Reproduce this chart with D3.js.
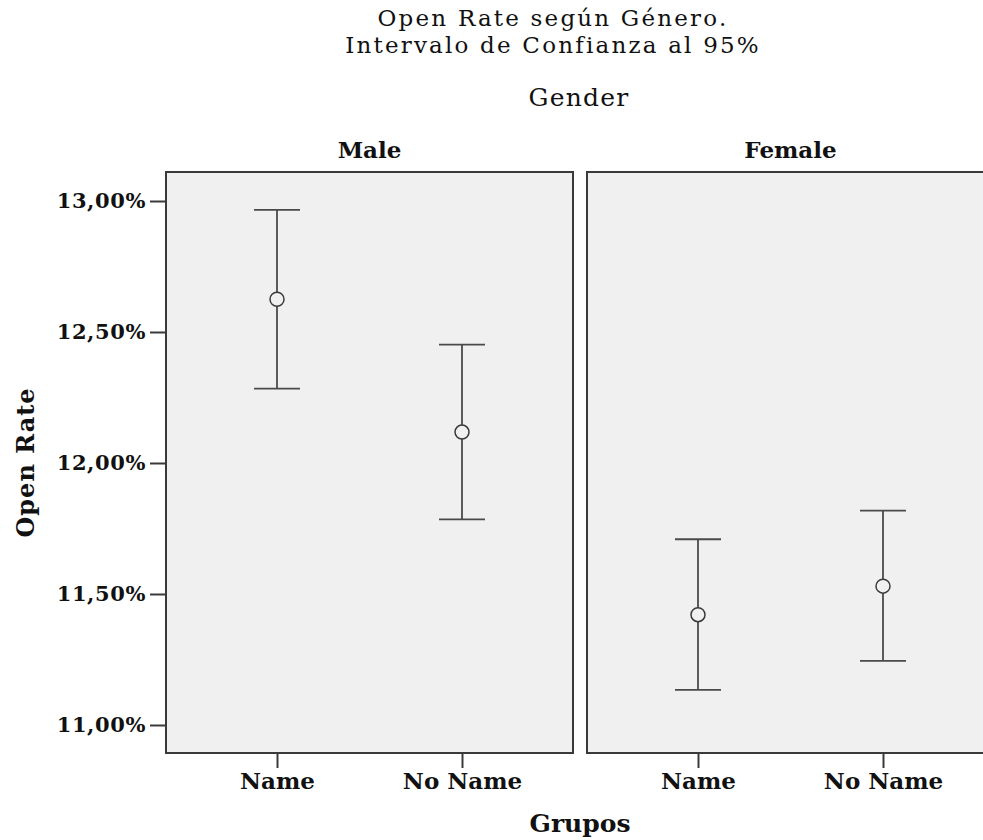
<!DOCTYPE html>
<html>
<head>
<meta charset="utf-8">
<script src="https://cdn.jsdelivr.net/npm/d3@7"></script>
<style>
	html, body { margin: 0; padding: 0; background: #fff; }
	svg text { font-family: "DejaVu Serif", serif; fill: #111; }
</style>
</head>
<body>
<svg id="chart" width="983" height="840"></svg>
<script>
'use strict';

// facets and groups
const genders = ["Male", "Female"];
const groups = ["Name", "No Name"];

// open rate (%) mean and 95% CI, one row per gender
const means = [[12.625, 12.118], [11.421, 11.530]];
const lower = [[12.284, 11.785], [11.134, 11.245]];
const upper = [[12.966, 12.452], [11.709, 11.818]];

const yTicks = [11.0, 11.5, 12.0, 12.5, 13.0];

const titleLines = ["Open Rate según Género.", "Intervalo de Confianza al 95%"];

let svg = d3.select("#chart");

let panelTop = 172, panelBottom = 753;
let panelW = 407;
let panelLeft = [166, 587];

let y = d3.scaleLinear()
	.domain([10.8931, 13.1107])
	.range([panelBottom, panelTop]);

function fmtPct(d){
	return d.toFixed(2).replace(".", ",") + "%";
}

// title, one text per line
svg.selectAll(".title")
	.data(titleLines)
	.enter()
	.append("text")
	.attr("class", "title")
	.attr("x", 553)
	.attr("y", function(d, i){ return 26 + i * 27; })
	.attr("text-anchor", "middle")
	.style("font-size", "23px")
	.style("letter-spacing", "2.2px")
	.text(function(d){ return d; });

svg.append("text")
	.attr("x", 579)
	.attr("y", 106)
	.attr("text-anchor", "middle")
	.style("font-size", "25px")
	.style("letter-spacing", "1.2px")
	.text("Gender");

// panels
genders.forEach(function(g, gi){
	let x0 = panelLeft[gi];
	let x = d3.scalePoint()
		.domain(groups)
		.range([x0, x0 + panelW])
		.padding(0.6);

	let panel = svg.append("g").attr("class", "panel");

	panel.append("rect")
		.attr("x", x0)
		.attr("y", panelTop)
		.attr("width", panelW)
		.attr("height", panelBottom - panelTop)
		.attr("fill", "#f0f0f0")
		.attr("stroke", "#3a3a3a")
		.attr("stroke-width", 2);

	panel.append("text")
		.attr("x", x0 + panelW / 2)
		.attr("y", 158)
		.attr("text-anchor", "middle")
		.style("font-size", "23px")
		.style("font-weight", "bold")
		.text(g);

	let xAxis = panel.append("g")
		.attr("transform", "translate(0," + panelBottom + ")")
		.call(d3.axisBottom(x).tickSize(15).tickPadding(5));
	xAxis.select(".domain").remove();
	xAxis.selectAll("line").attr("stroke", "#3a3a3a").attr("stroke-width", 2);
	xAxis.selectAll("text")
		.style("font-size", "23px")
		.style("font-weight", "bold")
		.style("font-family", "DejaVu Serif")
		.attr("fill", "#111");

	// error bars
	let bars = panel.selectAll(".bar")
		.data(groups)
		.enter()
		.append("g")
		.attr("class", "bar");

	bars.append("line")
		.attr("x1", function(d){ return x(d); })
		.attr("x2", function(d){ return x(d); })
		.attr("y1", function(d, i){ return y(upper[gi][i]); })
		.attr("y2", function(d, i){ return y(lower[gi][i]); })
		.attr("stroke", "#4a4a4a")
		.attr("stroke-width", 1.8);

	[upper, lower].forEach(function(arr){
		bars.append("line")
			.attr("x1", function(d){ return x(d) - 23; })
			.attr("x2", function(d){ return x(d) + 23; })
			.attr("y1", function(d, i){ return y(arr[gi][i]); })
			.attr("y2", function(d, i){ return y(arr[gi][i]); })
			.attr("stroke", "#4a4a4a")
			.attr("stroke-width", 1.8);
	});

	bars.append("circle")
		.attr("cx", function(d){ return x(d); })
		.attr("cy", function(d, i){ return y(means[gi][i]); })
		.attr("r", 7)
		.attr("fill", "#f0f0f0")
		.attr("stroke", "#3a3a3a")
		.attr("stroke-width", 1.5);
});

// y axis
let yAxis = svg.append("g")
	.attr("transform", "translate(" + panelLeft[0] + ",0)")
	.call(d3.axisLeft(y).tickValues(yTicks).tickSize(16).tickPadding(4).tickFormat(fmtPct));
yAxis.select(".domain").remove();
yAxis.selectAll("line").attr("stroke", "#3a3a3a").attr("stroke-width", 2);
yAxis.selectAll("text")
	.style("font-size", "21px")
	.style("font-weight", "bold")
	.style("letter-spacing", "0.6px")
	.style("font-family", "DejaVu Serif")
	.attr("fill", "#111");

// axis titles
svg.append("text")
	.attr("transform", "translate(34," + ((panelTop + panelBottom) / 2) + ") rotate(-90)")
	.attr("text-anchor", "middle")
	.style("font-size", "24px")
	.style("font-weight", "bold")
	.style("letter-spacing", "1px")
	.text("Open Rate");

svg.append("text")
	.attr("x", 580)
	.attr("y", 832)
	.attr("text-anchor", "middle")
	.style("font-size", "25px")
	.style("font-weight", "bold")
	.text("Grupos");
</script>
</body>
</html>
